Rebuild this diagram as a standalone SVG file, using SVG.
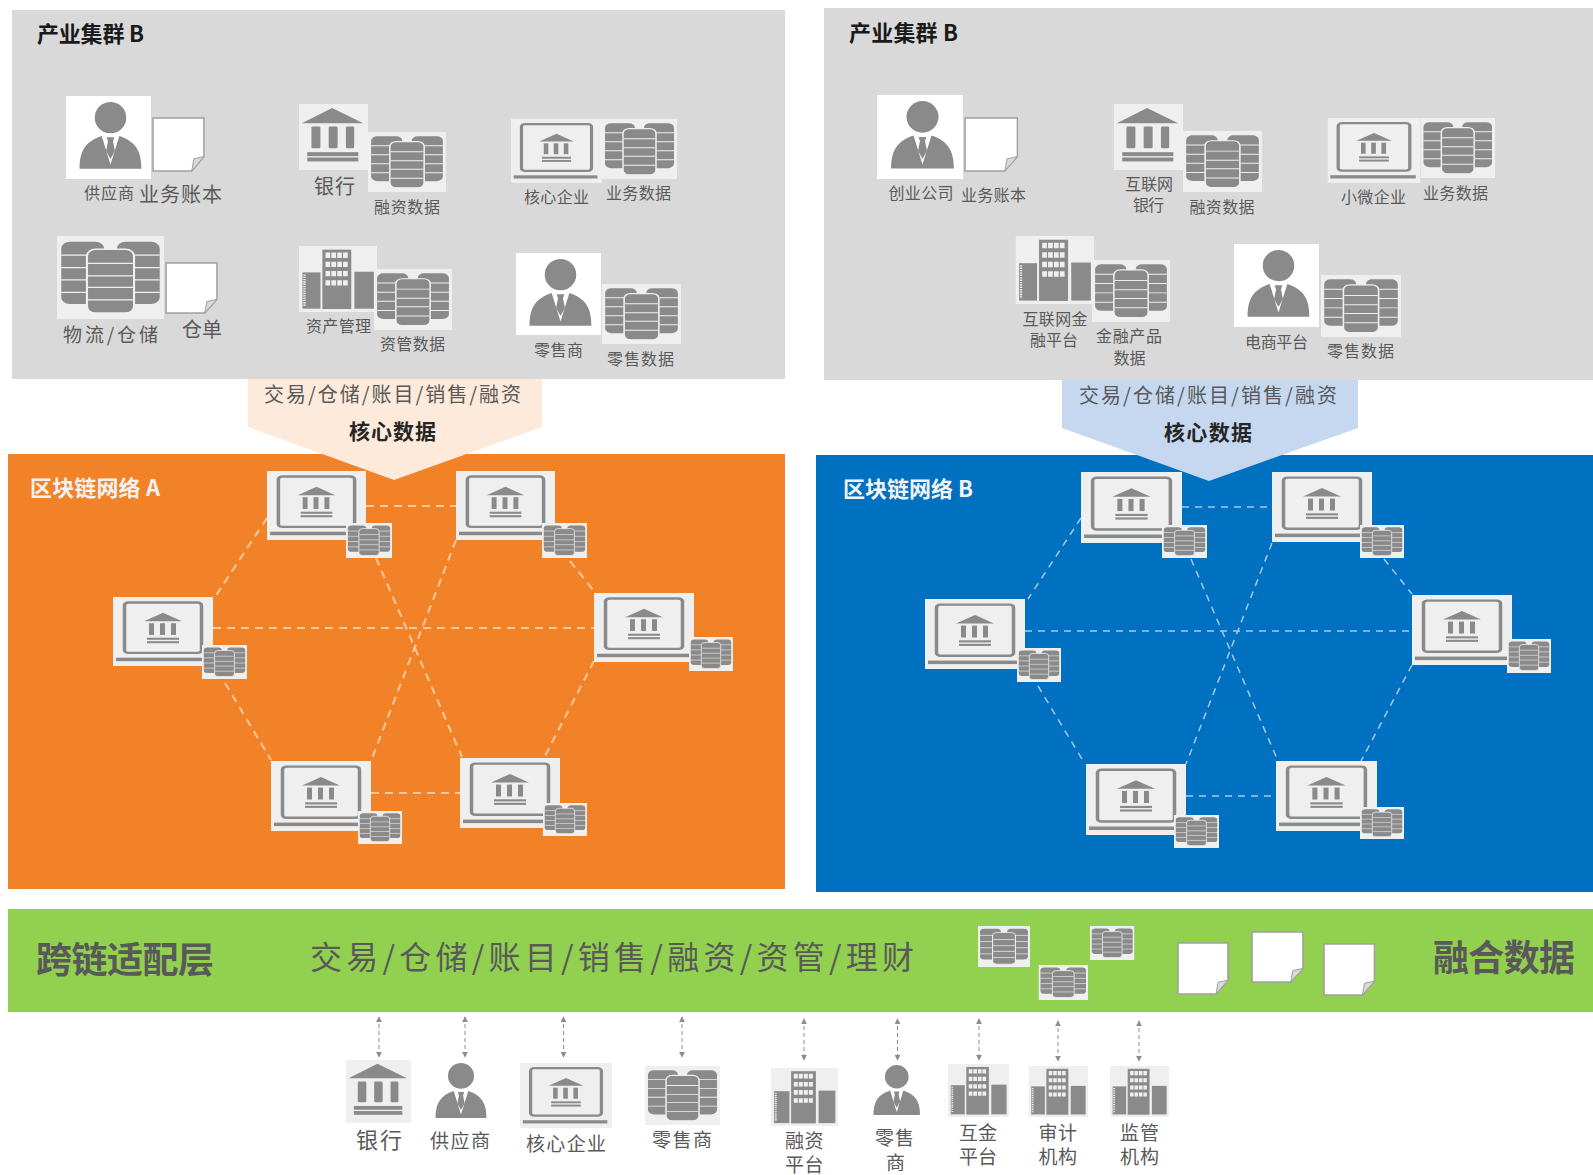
<svg xmlns="http://www.w3.org/2000/svg" xmlns:xlink="http://www.w3.org/1999/xlink" width="1593" height="1175" viewBox="0 0 1593 1175">
<style>
text{font-family:"Noto Sans CJK SC","Liberation Sans",sans-serif;fill:#595959}
.t16{font-size:16px}.t19{font-size:19px}.t20{font-size:20px}.t22{font-size:22px}
.title{font-size:22px;font-weight:700;fill:#1a1a1a}
.wt{font-size:22px;font-weight:700;fill:#f2f2f2}
.core{font-size:21px;font-weight:700;fill:#262626}
.big{font-size:36px;font-weight:700}
.mid{font-size:32px}
.g{fill:#8a8a8a}.bg{fill:#efefef}
.dashO{stroke:#fbc99f;stroke-width:2;stroke-dasharray:8 6;fill:none}
.dashB{stroke:#a9c9e8;stroke-width:1.5;stroke-dasharray:7 6;fill:none}
.arr{stroke:#8c8c8c;stroke-width:1;stroke-dasharray:4 3;fill:none;marker-start:url(#ah);marker-end:url(#ah)}
</style>
<defs>
<marker id="ah" viewBox="0 0 8 8" refX="7" refY="4" markerWidth="6" markerHeight="6" markerUnits="userSpaceOnUse" orient="auto-start-reverse"><path d="M0 0L8 4L0 8Z" fill="#8c8c8c"/></marker>
<symbol id="person" viewBox="0 0 100 100" preserveAspectRatio="none">
<ellipse class="g" cx="50" cy="23" rx="25" ry="23"/>
<path class="g" d="M1 98C1 72 10 58 36 50L50 92L64 50C90 58 99 72 99 98Z"/>
<path class="g" d="M44 52H56L54 58L57 72L50 84L43 72L46 58Z"/>
</symbol>
<symbol id="bank" viewBox="0 0 100 100" preserveAspectRatio="none">
<rect class="bg" width="100" height="100"/>
<path class="g" d="M4 29L48 6L93 29Z"/>
<rect class="g" x="18" y="34" width="13" height="33" rx="2"/><rect class="g" x="43" y="34" width="13" height="33" rx="2"/><rect class="g" x="68" y="34" width="12" height="33" rx="2"/>
<rect class="g" x="12" y="73" width="74" height="6"/><rect class="g" x="12" y="81" width="74" height="6"/>
</symbol>
<symbol id="laptop" viewBox="0 0 100 100" preserveAspectRatio="none">
<rect class="bg" width="100" height="100"/>
<rect x="11.5" y="8" width="77" height="73" rx="4" fill="none" stroke="#8a8a8a" stroke-width="3.5"/>
<rect class="g" x="3" y="88" width="92" height="5"/>
<path class="g" d="M31 35L50 23L69 35Z"/>
<rect class="g" x="36" y="38" width="5" height="17"/><rect class="g" x="47" y="38" width="5" height="17"/><rect class="g" x="58" y="38" width="5" height="17"/>
<rect class="g" x="34" y="59" width="32" height="3"/><rect class="g" x="34" y="64" width="32" height="3"/>
</symbol>
<symbol id="db" viewBox="0 0 100 100" preserveAspectRatio="none">
<rect class="bg" width="100" height="100"/>
<rect class="g" x="4" y="7" width="40" height="75" rx="8"/><rect class="g" x="56" y="7" width="40" height="75" rx="8"/>
<path d="M4 23H44M4 38H44M4 53H44M4 68H44M56 23H96M56 38H96M56 53H96M56 68H96" stroke="#efefef" stroke-width="1.5"/>
<rect class="g" x="28" y="16" width="44" height="77" rx="8" stroke="#efefef" stroke-width="2"/>
<path d="M29 33H71M29 48H71M29 62H71M29 77H71" stroke="#efefef" stroke-width="1.5"/>
</symbol>
<symbol id="bldg" viewBox="0 0 100 100" preserveAspectRatio="none">
<rect class="bg" width="100" height="100"/>
<rect class="g" x="4.500" y="40" width="23" height="55"/>
<rect class="g" x="30" y="5.500" width="37" height="90"/>
<rect class="g" x="71" y="39" width="25" height="56"/>
<path d="M7 43V92" stroke="#efefef" stroke-width="3" stroke-dasharray="2 1.500"/>
<path d="M34 14H63M34 28H63M34 42H63M34 56H63" stroke="#efefef" stroke-width="8" stroke-dasharray="6 1.500"/>
</symbol>
<symbol id="doc" viewBox="0 0 100 100" preserveAspectRatio="none">
<path d="M2 2H98V72L75 98H2Z" fill="#fff" stroke="#a0a0a0" stroke-width="1.500" vector-effect="non-scaling-stroke"/>
<path d="M75 98L79 76L98 72Z" fill="#d9d9d9" stroke="#a0a0a0" stroke-width="1" vector-effect="non-scaling-stroke"/>
</symbol>
</defs>
<rect width="1593" height="1175" fill="#fff"/>

<g id="panels">
<rect x="12" y="10" width="773" height="369" fill="#d9d9d9"/>
<rect x="824" y="8" width="769" height="372" fill="#d9d9d9"/>
<rect x="8" y="454" width="777" height="435" fill="#f28227"/>
<rect x="816" y="455" width="777" height="437" fill="#0070c0"/>
<rect x="8" y="909" width="1585" height="103" fill="#92d050"/>
<path d="M248 379H542V427L394 480L248 427Z" fill="#fdeadb"/>
<path d="M1062 380H1358V428L1209 481L1062 428Z" fill="#c5d8f0"/>
</g>

<g id="panel-labels">
<text class="title" x="37" y="42" textLength="107">产业集群 B</text>
<text class="title" x="849" y="41" textLength="109">产业集群 B</text>
<text x="264" y="402" class="t20" textLength="257">交易/仓储/账目/销售/融资</text>
<text class="core" x="349" y="439" textLength="87">核心数据</text>
<text x="1079" y="403" class="t20" textLength="258">交易/仓储/账目/销售/融资</text>
<text class="core" x="1164" y="440" textLength="88">核心数据</text>
<text class="wt" x="30" y="496" textLength="130">区块链网络 A</text>
<text class="wt" x="843" y="497" textLength="130">区块链网络 B</text>
<text class="big" x="36" y="973" textLength="178">跨链适配层</text>
<text class="mid" x="310" y="969" textLength="604">交易/仓储/账目/销售/融资/资管/理财</text>
<text class="big" x="1433" y="971" textLength="142">融合数据</text>
</g>

<g id="connectors">
<path class="dashO" d="M366 506H456M213 628H594M371 793H460M267 518L213 600M570 561L593 590M225 683L271 760M594 661L544 758M376 558L462 757M456 540L371 761"/>
<path class="dashB" d="M1182 507H1272M1025 631H1412M1186 796H1276M1081 518L1028 599M1384 559L1412 594M1038 686L1085 764M1412 665L1361 761M1191 559L1278 761M1272 543L1186 764"/>
<path class="arr" d="M379 1017V1057"/><path class="arr" d="M465 1017V1057"/><path class="arr" d="M563.500 1017V1057"/><path class="arr" d="M682 1017V1057"/>
<path class="arr" d="M804 1019V1060"/><path class="arr" d="M897.500 1019V1060"/><path class="arr" d="M979 1019V1060"/><path class="arr" d="M1058 1021V1061"/><path class="arr" d="M1139 1021V1061"/>
</g>

<g id="cluster-a-supplier"><rect x="66" y="96" width="85" height="83" fill="#fff"/><use href="#person" x="79" y="102" width="63" height="68"/><use href="#doc" x="152" y="117" width="53" height="55"/><text class="t16" x="84" y="199" textLength="50">供应商</text><text class="t20" x="139" y="202" textLength="83">业务账本</text></g>
<g id="cluster-a-bank"><use href="#bank" x="299" y="104" width="69" height="66"/><use href="#db" x="368" y="132" width="78" height="60"/><text class="t20" x="314" y="194" textLength="41">银行</text><text class="t16" x="374" y="213" textLength="66">融资数据</text></g>
<g id="cluster-a-core"><use href="#laptop" x="511" y="119" width="91" height="64"/><use href="#db" x="602" y="119" width="75" height="60"/><text class="t16" x="524" y="203" textLength="65">核心企业</text><text class="t16" x="606" y="199" textLength="65">业务数据</text></g>
<g id="cluster-a-logistics"><use href="#db" x="57" y="236" width="107" height="83"/><use href="#doc" x="165" y="262" width="53" height="52"/><text class="t19" x="63" y="342" textLength="95">物流/仓储</text><text class="t20" x="182" y="337" textLength="40">仓单</text></g>
<g id="cluster-a-asset"><use href="#bldg" x="299" y="246" width="78" height="66"/><use href="#db" x="374" y="269" width="78" height="61"/><text class="t16" x="306" y="332" textLength="65">资产管理</text><text class="t16" x="380" y="350" textLength="65">资管数据</text></g>
<g id="cluster-a-retail"><rect x="516" y="253" width="85" height="82" fill="#fff"/><use href="#person" x="529" y="259" width="63" height="68"/><use href="#db" x="602" y="284" width="79" height="60"/><text class="t16" x="534" y="356" textLength="49">零售商</text><text class="t16" x="607" y="365" textLength="67">零售数据</text></g>

<g id="cluster-b-startup"><rect x="877" y="95" width="86" height="84" fill="#fff"/><use href="#person" x="890.500" y="101" width="64" height="69"/><use href="#doc" x="964" y="117" width="54.500" height="55"/><text class="t16" x="888.500" y="199" textLength="65">创业公司</text><text class="t16" x="961" y="201" textLength="65">业务账本</text></g>
<g id="cluster-b-bank"><use href="#bank" x="1114" y="104" width="69" height="66"/><use href="#db" x="1183" y="131" width="79" height="61"/><text class="t16" x="1125" y="190" textLength="48">互联网</text><text class="t16" x="1133" y="211" textLength="31">银行</text><text class="t16" x="1189.500" y="213" textLength="65">融资数据</text></g>
<g id="cluster-b-smb"><use href="#laptop" x="1327.500" y="118" width="93" height="65"/><use href="#db" x="1420.500" y="118" width="74.500" height="60"/><text class="t16" x="1341" y="203" textLength="65">小微企业</text><text class="t16" x="1423" y="199" textLength="65">业务数据</text></g>
<g id="cluster-b-fintech"><use href="#bldg" x="1015.500" y="236" width="78.500" height="68"/><use href="#db" x="1092" y="260" width="78" height="62"/><text class="t16" x="1022.500" y="325" textLength="65">互联网金</text><text class="t16" x="1030" y="346" textLength="48">融平台</text><text class="t16" x="1096" y="342" textLength="66">金融产品</text><text class="t16" x="1113.500" y="364" textLength="32">数据</text></g>
<g id="cluster-b-ecom"><rect x="1234" y="244" width="85" height="83" fill="#fff"/><use href="#person" x="1247" y="250" width="63" height="68"/><use href="#db" x="1321" y="275" width="80" height="62"/><text class="t16" x="1245" y="348" textLength="63">电商平台</text><text class="t16" x="1327" y="357" textLength="67">零售数据</text></g>

<g id="net-a-1"><use href="#laptop" x="267" y="471" width="99" height="69"/><use href="#db" x="346" y="523" width="46" height="35"/></g>
<g id="net-a-2"><use href="#laptop" x="456" y="471" width="99" height="69"/><use href="#db" x="542" y="523" width="45" height="35"/></g>
<g id="net-a-3"><use href="#laptop" x="113" y="597" width="100" height="69"/><use href="#db" x="202" y="645" width="45" height="34"/></g>
<g id="net-a-4"><use href="#laptop" x="594" y="593" width="100" height="69"/><use href="#db" x="689" y="637" width="44" height="34"/></g>
<g id="net-a-5"><use href="#laptop" x="271" y="761" width="100" height="70"/><use href="#db" x="358" y="811" width="44" height="33"/></g>
<g id="net-a-6"><use href="#laptop" x="460" y="758" width="100" height="70"/><use href="#db" x="543" y="803" width="44" height="33"/></g>

<g id="net-b-1"><use href="#laptop" x="1081" y="472" width="101" height="71"/><use href="#db" x="1162" y="525" width="45" height="33"/></g>
<g id="net-b-2"><use href="#laptop" x="1272" y="472" width="100" height="70"/><use href="#db" x="1360" y="525" width="44" height="33"/></g>
<g id="net-b-3"><use href="#laptop" x="925" y="599" width="100" height="70"/><use href="#db" x="1017" y="648" width="44" height="34"/></g>
<g id="net-b-4"><use href="#laptop" x="1412" y="595" width="100" height="70"/><use href="#db" x="1507" y="639" width="44" height="34"/></g>
<g id="net-b-5"><use href="#laptop" x="1086" y="764" width="100" height="71"/><use href="#db" x="1174" y="815" width="45" height="33"/></g>
<g id="net-b-6"><use href="#laptop" x="1276" y="761" width="101" height="70"/><use href="#db" x="1360" y="807" width="44" height="32"/></g>

<g id="merged-data">
<use href="#db" x="978" y="926" width="52" height="41"/><use href="#db" x="1090" y="926" width="44.500" height="34"/><use href="#db" x="1038.500" y="965" width="49.500" height="35"/>
<use href="#doc" x="1177" y="942" width="52" height="53"/><use href="#doc" x="1251" y="931" width="53" height="52"/><use href="#doc" x="1323" y="943" width="52.500" height="53"/>
</g>

<g id="bottom-bank"><use href="#bank" x="346" y="1060" width="65.500" height="63"/><text class="t22" x="356" y="1148" textLength="46">银行</text></g>
<g id="bottom-supplier"><use href="#person" x="435" y="1063" width="52" height="56"/><text class="t19" x="430" y="1148" textLength="60">供应商</text></g>
<g id="bottom-core"><use href="#laptop" x="520" y="1063" width="92" height="65"/><text class="t19" x="526" y="1151" textLength="80">核心企业</text></g>
<g id="bottom-retail"><use href="#db" x="645" y="1066" width="75" height="59"/><text class="t19" x="652" y="1147" textLength="60">零售商</text></g>
<g id="bottom-finance"><use href="#bldg" x="771" y="1068" width="67" height="58"/><text class="t19" x="785" y="1148" textLength="38.500">融资</text><text class="t19" x="785" y="1172" textLength="38.500">平台</text></g>
<g id="bottom-seller"><use href="#person" x="873" y="1065" width="47.500" height="51"/><text class="t19" x="875" y="1145" textLength="39">零售</text><text class="t19" x="886" y="1170">商</text></g>
<g id="bottom-fintech"><use href="#bldg" x="948" y="1064" width="61" height="53"/><text class="t19" x="959" y="1140" textLength="38">互金</text><text class="t19" x="959" y="1164" textLength="38">平台</text></g>
<g id="bottom-audit"><use href="#bldg" x="1028.500" y="1066" width="59.500" height="51"/><text class="t19" x="1038.500" y="1140" textLength="38.500">审计</text><text class="t19" x="1038.500" y="1164" textLength="38.500">机构</text></g>
<g id="bottom-regulator"><use href="#bldg" x="1110" y="1066" width="59" height="51"/><text class="t19" x="1120" y="1140" textLength="39">监管</text><text class="t19" x="1120" y="1164" textLength="39">机构</text></g>
</svg>
